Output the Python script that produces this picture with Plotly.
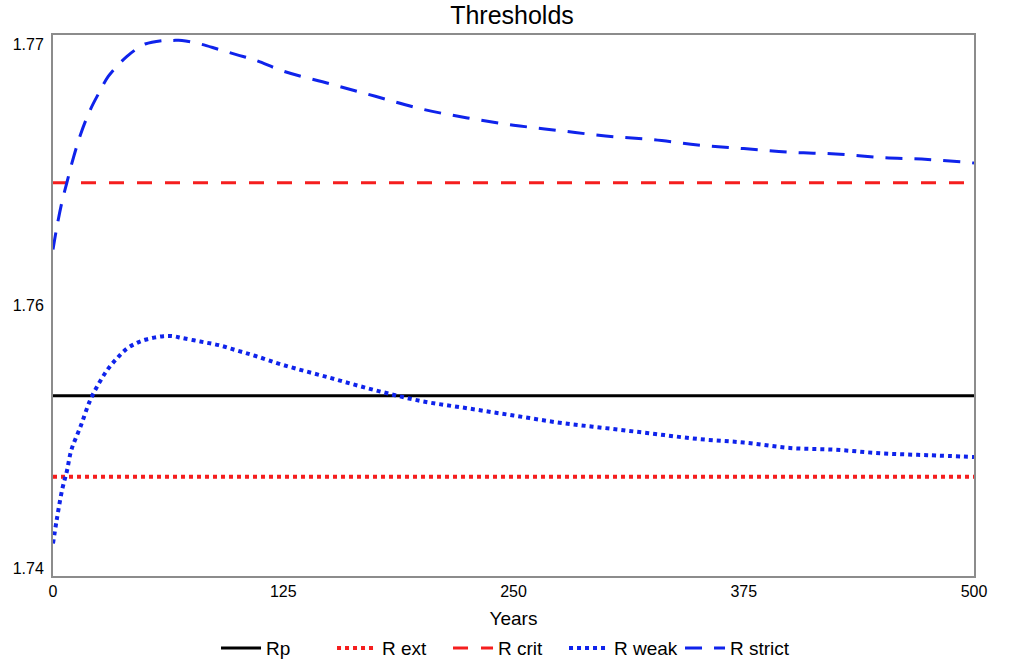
import plotly.graph_objects as go

years = [0, 2, 5, 7.5, 10, 15, 20, 25, 30, 35, 40, 45, 50, 60, 65, 70, 80, 90, 100, 110,
         125, 150, 175, 200, 225, 250, 275, 300, 325, 350, 375, 400, 425, 450, 475, 500]

r_strict = [1.7581, 1.7593, 1.7608, 1.7618, 1.7628, 1.7645, 1.7658, 1.7668, 1.7677, 1.7683,
            1.7688, 1.7692, 1.7695, 1.7697, 1.7697, 1.7697, 1.7695, 1.7692, 1.7689, 1.7686,
            1.7680, 1.7673, 1.7666, 1.7659, 1.7654, 1.7650, 1.7647, 1.7644, 1.7642, 1.7639,
            1.7637, 1.7635, 1.7634, 1.7632, 1.7631, 1.7629]

r_weak = [1.7418, 1.7431, 1.7448, 1.7458, 1.7470, 1.7483, 1.7497, 1.7507, 1.7515, 1.7521,
          1.7526, 1.7529, 1.7531, 1.7533, 1.7533, 1.7532, 1.7530, 1.7528, 1.7525, 1.7522,
          1.7517, 1.7510, 1.7503, 1.7497, 1.7493, 1.7489, 1.7485, 1.7482, 1.7479, 1.7476,
          1.7474, 1.7471, 1.7470, 1.7468, 1.7467, 1.7466]

rp_value = 1.7500
r_ext_value = 1.7455
r_crit_value = 1.7618

x_ticks = [0, 125, 250, 375, 500]
y_tick_vals = [1.7404, 1.755, 1.7695]
y_tick_text = ["1.74", "1.76", "1.77"]

RED = "rgb(245,30,30)"
BLUE = "rgb(15,35,235)"

fig = go.Figure()
fig.add_trace(go.Scatter(x=[years[0], years[-1]], y=[rp_value, rp_value], mode="lines",
                         name="Rp", line=dict(color="black", width=3)))
fig.add_trace(go.Scatter(x=[years[0], years[-1]], y=[r_ext_value, r_ext_value], mode="lines",
                         name="R ext", line=dict(color=RED, width=4, dash="dot")))
fig.add_trace(go.Scatter(x=[years[0], years[-1]], y=[r_crit_value, r_crit_value], mode="lines",
                         name="R crit", line=dict(color=RED, width=3, dash="15px,13px")))
fig.add_trace(go.Scatter(x=years, y=r_weak, mode="lines", name="R weak",
                         line=dict(color=BLUE, width=4, dash="dot", shape="spline")))
fig.add_trace(go.Scatter(x=years, y=r_strict, mode="lines", name="R strict",
                         line=dict(color=BLUE, width=3, dash="17px,12px", shape="spline")))

fig.update_layout(
    width=1024, height=664,
    margin=dict(l=53, r=50, t=35, b=88),
    paper_bgcolor="white", plot_bgcolor="white",
    font=dict(family="Liberation Sans, Arial, sans-serif", color="black", size=16),
    title=dict(text="Thresholds", x=0.5, xanchor="center", y=0.977, yanchor="middle",
               font=dict(size=25)),
    showlegend=True,
    legend=dict(orientation="h", x=0.177, xanchor="left", yref="container", y=0.024,
                yanchor="middle", font=dict(size=19), itemwidth=40, traceorder="normal",
                entrywidth=61, entrywidthmode="pixels"),
    xaxis=dict(range=[0, 500], tickvals=x_ticks, showgrid=False, zeroline=False,
               showline=True, linecolor="#8c8c8c", linewidth=2, mirror=True,
               ticks="", tickfont=dict(size=16), automargin=False,
               title=dict(text="Years", font=dict(size=19), standoff=12)),
    yaxis=dict(range=[1.74, 1.77], tickvals=y_tick_vals, ticktext=y_tick_text,
               showgrid=False, zeroline=False, showline=True, linecolor="#8c8c8c",
               linewidth=2, mirror=True, ticks="", tickfont=dict(size=16), automargin=False,
               ticklabelstandoff=4),
)

fig.write_html("out.html", post_script="document.body.style.margin='0px';",
               config={"displayModeBar": False})
